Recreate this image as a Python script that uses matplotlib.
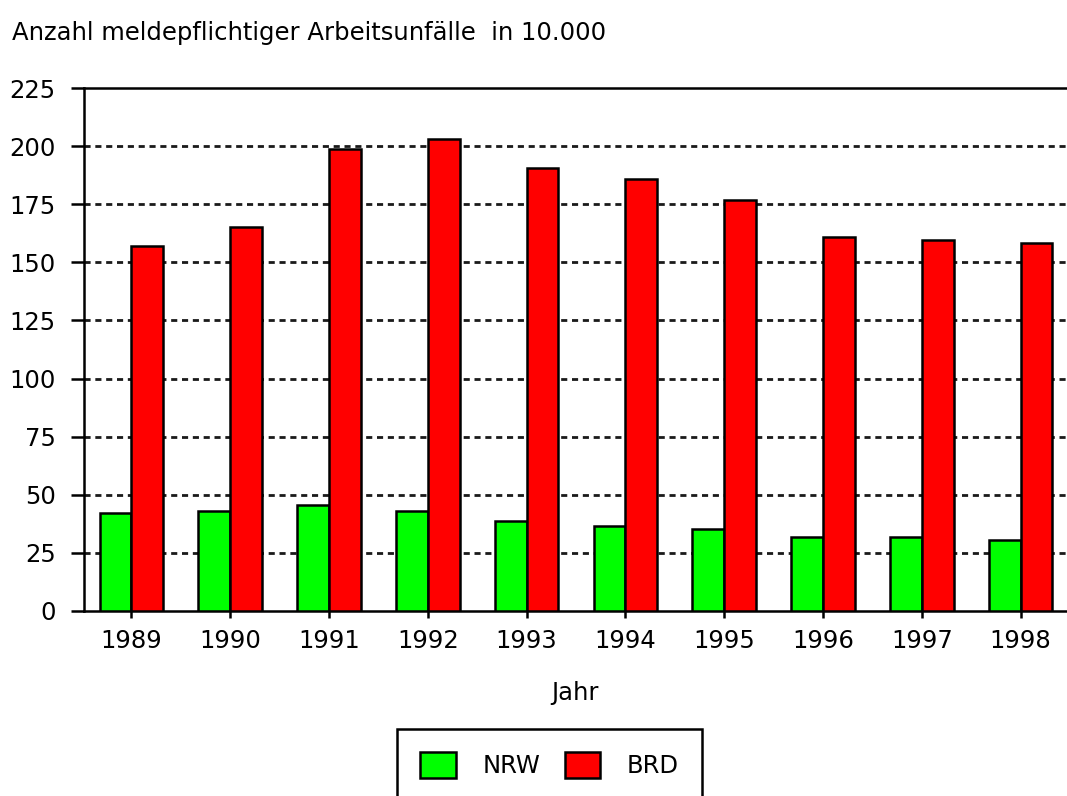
import matplotlib
matplotlib.use("Agg")
import matplotlib.pyplot as plt
import numpy as np

years = ["1989", "1990", "1991", "1992", "1993", "1994", "1995", "1996", "1997", "1998"]
nrw = [42.3, 43.2, 45.6, 43.2, 38.7, 36.4, 35.3, 31.7, 31.7, 30.7]
brd = [157.2, 165.4, 198.6, 203.1, 190.5, 185.9, 176.7, 160.8, 159.6, 158.3]
yticks = [0, 25, 50, 75, 100, 125, 150, 175, 200, 225]

plt.rcParams['font.family'] = ['DejaVu Sans']
FS = 17.5

W, H = 1067, 796
fig = plt.figure(figsize=(W / 100, H / 100), dpi=100)
left_px, right_px, top_px, bot_px = 84, 1067, 88, 611
ax = fig.add_axes([left_px / W, 1 - bot_px / H, (right_px - left_px) / W, (bot_px - top_px) / H])

x = np.arange(len(years))
bw = 0.322
ax.bar(x - bw, nrw, width=bw, align='edge', color='#00ff00', edgecolor='black', linewidth=1.8, label='NRW', zorder=3)
ax.bar(x, brd, width=bw, align='edge', color='#ff0000', edgecolor='black', linewidth=1.8, label='BRD', zorder=3)

ax.set_xlim(-0.48, 9.47)
ax.set_ylim(0, 225)
ax.set_yticks(yticks)
ax.set_xticks(x)
ax.set_xticklabels(years)

for v in yticks[1:-1]:
    ax.axhline(v, color='#1a1a1a', linewidth=2.0, linestyle=(0, (2.2, 1.7)), zorder=1)

for s in ['left', 'top', 'bottom']:
    ax.spines[s].set_linewidth(1.8)
    ax.spines[s].set_color('black')
ax.spines['right'].set_visible(False)

ax.tick_params(axis='y', direction='out', length=9.5, width=1.8, pad=11.0, labelsize=FS)
ax.tick_params(axis='x', direction='out', length=5, width=1.8, pad=8.0, labelsize=FS)

ax.set_xlabel('Jahr', fontsize=FS, labelpad=20)

fig.text(12 / W, 1 - 40 / H, 'Anzahl meldepflichtiger Arbeitsunfälle  in 10.000',
         fontsize=FS, ha='left', va='baseline')

leg = fig.legend(loc='upper center', bbox_to_anchor=(549.5 / W, 1 - 729 / H), ncol=2,
                 fontsize=FS, frameon=True, fancybox=False, shadow=False, framealpha=1,
                 handlelength=1.45, handleheight=1.25, handletextpad=1.1,
                 columnspacing=1.0, borderpad=0.95, borderaxespad=0)
leg.get_frame().set_edgecolor('black')
leg.get_frame().set_linewidth(1.8)
for p in leg.get_patches():
    p.set_linewidth(1.8)

fig.savefig('out.png', dpi=100)
